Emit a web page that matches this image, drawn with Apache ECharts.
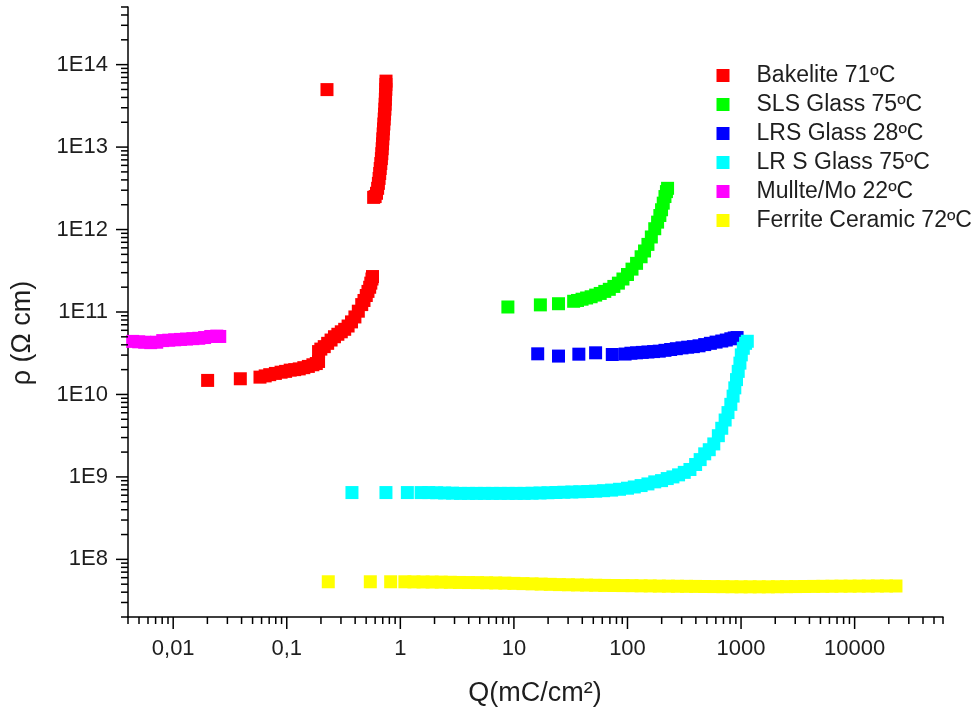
<!DOCTYPE html>
<html>
<head>
<meta charset="utf-8">
<script src="https://cdn.jsdelivr.net/npm/echarts@6/dist/echarts.min.js"></script>
<style>
  html, body { margin: 0; padding: 0; background: #ffffff; }
  #chart { width: 975px; height: 714px; }
</style>
</head>
<body>
<div id="chart"></div>
<script>
// ---------------- data (x = Q in mC/cm^2, y = rho in Ohm cm) ----------------
const seriesNames = ['Bakelite 71ºC', 'SLS Glass 75ºC', 'LRS Glass 28ºC', 'LR S Glass 75ºC', 'Mullte/Mo 22ºC', 'Ferrite Ceramic 72ºC'];
const seriesColors = ['#ff0000', '#00ff00', '#0000ff', '#00ffff', '#ff00ff', '#ffff00'];

const bakelite = [
  [0.0201, 1.48e10], [0.039, 1.55e10],
  [0.0581, 1.622e10], [0.0646, 1.679e10], [0.0708, 1.738e10], [0.0794, 1.799e10], [0.0891, 1.862e10],
  [0.0977, 1.905e10], [0.1072, 1.972e10], [0.1175, 2.0e10], [0.1288, 2.042e10], [0.1413, 2.113e10],
  [0.1549, 2.188e10], [0.1698, 2.291e10], [0.182, 2.371e10], [0.1905, 2.512e10], [0.1905, 3.311e10],
  [0.1995, 3.548e10], [0.2138, 3.802e10], [0.2291, 4.169e10], [0.2455, 4.571e10], [0.263, 5.012e10],
  [0.2818, 5.370e10], [0.302, 5.754e10], [0.3236, 6.166e10], [0.3467, 6.761e10], [0.3715, 7.586e10],
  [0.3981, 8.710e10], [0.4266, 1.023e11], [0.4571, 1.230e11], [0.4786, 1.380e11], [0.5012, 1.585e11],
  [0.5188, 1.778e11], [0.537, 1.995e11], [0.5495, 2.239e11], [0.5623, 2.512e11], [0.5689, 2.692e11],
  [0.582, 2.455e12], [0.600, 2.512e12], [0.617, 2.754e12], [0.631, 3.162e12], [0.641, 3.631e12],
  [0.650, 4.169e12], [0.658, 4.786e12], [0.665, 5.495e12], [0.673, 6.310e12], [0.681, 7.244e12],
  [0.687, 8.318e12], [0.692, 9.550e12], [0.697, 1.096e13], [0.701, 1.259e13], [0.706, 1.445e13],
  [0.711, 1.660e13], [0.716, 1.905e13], [0.721, 2.188e13], [0.726, 2.512e13], [0.731, 2.884e13],
  [0.735, 3.311e13], [0.738, 3.802e13], [0.741, 4.365e13], [0.745, 5.012e13], [0.746, 5.754e13],
  [0.748, 6.310e13],
  [0.226, 4.98e13]
];

const slsGlass = [
  [8.85, 1.15e11], [17.1, 1.22e11], [24.7, 1.26e11],
  [33.57, 1.349e11], [36.31, 1.380e11], [39.81, 1.429e11], [43.65, 1.479e11], [47.86, 1.531e11],
  [52.48, 1.603e11], [57.54, 1.679e11], [63.10, 1.778e11], [69.18, 1.884e11], [75.86, 2.042e11],
  [83.18, 2.239e11], [91.20, 2.512e11], [100, 2.851e11], [109.6, 3.311e11], [120.2, 3.890e11],
  [131.8, 4.677e11], [141.3, 5.495e11], [151.4, 6.607e11], [162.2, 8.128e11], [173.8, 1.023e12],
  [184.1, 1.230e12], [192.8, 1.479e12], [199.5, 1.738e12], [206.5, 2.089e12], [213.8, 2.512e12],
  [220.3, 2.884e12], [225.4, 3.162e12]
];

const lrsGlass28 = [
  [16.2, 3.11e10], [24.7, 2.92e10], [37.3, 3.08e10], [52.4, 3.20e10], [73.5, 3.05e10],
  [95.28, 3.090e10], [107.2, 3.162e10], [120.2, 3.199e10], [134.9, 3.236e10], [151.4, 3.273e10],
  [169.8, 3.311e10], [190.5, 3.350e10], [213.8, 3.428e10], [239.9, 3.508e10], [269.2, 3.589e10],
  [302.0, 3.673e10], [338.8, 3.741e10], [380.2, 3.802e10], [426.6, 3.890e10], [478.6, 4.027e10],
  [537.0, 4.169e10], [602.6, 4.315e10], [676.1, 4.446e10], [741.3, 4.571e10], [812.8, 4.732e10],
  [871.0, 4.842e10], [922.6, 4.898e10]
];

const lrsGlass75 = [
  [0.375, 6.46e8], [0.747, 6.46e8], [1.153, 6.46e8],
  [1.524, 6.457e8], [1.778, 6.457e8], [2.089, 6.427e8], [2.455, 6.383e8], [2.884, 6.353e8],
  [3.388, 6.310e8], [3.981, 6.310e8], [4.677, 6.310e8], [5.495, 6.310e8], [6.457, 6.310e8],
  [7.586, 6.310e8], [8.913, 6.310e8], [10.47, 6.310e8], [12.30, 6.310e8], [14.45, 6.339e8],
  [16.98, 6.383e8], [19.95, 6.427e8], [23.44, 6.471e8], [27.54, 6.516e8], [32.36, 6.561e8],
  [38.02, 6.607e8], [44.67, 6.653e8], [52.48, 6.714e8], [61.66, 6.808e8], [72.44, 6.918e8],
  [85.11, 7.079e8], [100, 7.295e8], [114.8, 7.551e8], [131.8, 7.852e8], [151.4, 8.222e8],
  [173.8, 8.710e8], [199.5, 9.016e8], [223.9, 9.550e8], [251.2, 1.0e9], [281.8, 1.059e9],
  [316.2, 1.135e9], [354.8, 1.230e9], [398.1, 1.413e9], [436.5, 1.622e9], [478.6, 1.905e9],
  [524.8, 2.138e9], [575.4, 2.512e9], [631.0, 3.162e9], [676.1, 3.890e9], [724.4, 4.898e9],
  [767.4, 6.026e9], [812.8, 7.586e9], [851.1, 9.550e9], [881.0, 1.202e10], [912.0, 1.514e10],
  [944.1, 1.905e10], [977.2, 2.399e10], [1005, 3.020e10], [1047, 3.631e10], [1096, 4.169e10],
  [1135, 4.416e10]
];

const mullite = [
  [0.0044, 4.4e10], [0.00497, 4.35e10], [0.00561, 4.3e10], [0.00634, 4.25e10], [0.00716, 4.3e10],
  [0.00809, 4.5e10], [0.00914, 4.55e10], [0.0103, 4.6e10], [0.0116, 4.65e10], [0.0131, 4.7e10],
  [0.0149, 4.75e10], [0.0168, 4.8e10], [0.0189, 4.9e10], [0.0214, 5.05e10], [0.0242, 5.1e10],
  [0.0257, 5.05e10]
];

const ferrite = [
  [0.232, 5.35e7], [0.544, 5.35e7], [0.822, 5.35e7],
  [1.096, 5.346e7], [1.318, 5.333e7], [1.585, 5.321e7], [1.905, 5.309e7], [2.291, 5.297e7],
  [2.754, 5.272e7], [3.311, 5.248e7], [3.981, 5.236e7], [4.786, 5.224e7], [5.754, 5.200e7],
  [6.918, 5.176e7], [8.318, 5.152e7], [10, 5.117e7], [12.02, 5.082e7], [14.45, 5.047e7],
  [17.38, 5.012e7], [20.89, 4.977e7], [25.12, 4.943e7], [30.20, 4.920e7], [36.31, 4.898e7],
  [43.65, 4.875e7], [52.48, 4.853e7], [63.10, 4.831e7], [75.86, 4.819e7], [91.20, 4.808e7],
  [109.6, 4.797e7], [131.8, 4.775e7], [158.5, 4.764e7], [190.5, 4.742e7], [229.1, 4.732e7],
  [275.4, 4.721e7], [331.1, 4.710e7], [398.1, 4.699e7], [478.6, 4.688e7], [575.4, 4.677e7],
  [691.8, 4.667e7], [831.8, 4.656e7], [1000, 4.645e7], [1202, 4.645e7], [1445, 4.645e7],
  [1738, 4.645e7], [2089, 4.656e7], [2512, 4.667e7], [3020, 4.677e7], [3631, 4.688e7],
  [4365, 4.699e7], [5248, 4.710e7], [6310, 4.721e7], [7586, 4.732e7], [9120, 4.732e7],
  [10965, 4.742e7], [13183, 4.742e7], [15849, 4.753e7], [19055, 4.753e7], [23121, 4.753e7]
];

// axis ranges and tick labels
const xRange = [0.004, 60000];
const yRange = [2e7, 5e14];
const xMajorTicks = [0.01, 0.1, 1, 10, 100, 1000, 10000];
const xTickLabels = ['0,01', '0,1', '1', '10', '100', '1000', '10000'];
const yMajorTicks = [1e8, 1e9, 1e10, 1e11, 1e12, 1e13, 1e14];
const yTickLabels = ['1E8', '1E9', '1E10', '1E11', '1E12', '1E13', '1E14'];
const xTitle = 'Q(mC/cm²)';
const yTitle = 'ρ (Ω cm)';

// ---------------- chart ----------------
const FONT = '"Liberation Sans", Arial, Helvetica, sans-serif';
const TEXT = '#1e1e1e';

function near(a, b) { return Math.abs(a - b) <= Math.abs(b) * 1e-6; }
function labelFor(v, ticks, labels) {
  for (let i = 0; i < ticks.length; i++) if (near(v, ticks[i])) return labels[i];
  return '';
}
// decade minor/major tick values inside a range
function tickValues(range) {
  const out = [];
  const e0 = Math.floor(Math.log10(range[0])) - 1, e1 = Math.ceil(Math.log10(range[1])) + 1;
  for (let e = e0; e <= e1; e++) {
    for (let m = 1; m <= 9; m++) {
      const v = parseFloat((m * Math.pow(10, e)).toPrecision(6));
      if (v >= range[0] * (1 - 1e-9) && v <= range[1] * (1 + 1e-9)) out.push([v, m === 1]);
    }
  }
  return out;
}
const MAJOR = 12, MINOR = 7, AXW = 1.5;
const xTickData = tickValues(xRange).map(t => [t[0], yRange[0], t[1] ? MAJOR : MINOR]);
const yTickData = tickValues(yRange).map(t => [xRange[0], t[0], t[1] ? MAJOR : MINOR]);

function tickSeries(data, isX) {
  return {
    type: 'custom', silent: true, clip: false, z: 10,
    data: data,
    renderItem: function (params, api) {
      const p = api.coord([api.value(0), api.value(1)]);
      const len = api.value(2);
      const shape = isX
        ? { x1: p[0], y1: p[1], x2: p[0], y2: p[1] + len }
        : { x1: p[0] - len, y1: p[1], x2: p[0], y2: p[1] };
      return { type: 'line', shape: shape, style: { stroke: '#000', lineWidth: AXW } };
    }
  };
}

const dataSets = [bakelite, slsGlass, lrsGlass28, lrsGlass75, mullite, ferrite];
const scatterSeries = dataSets.map((d, i) => ({
  name: seriesNames[i],
  type: 'scatter',
  data: d,
  symbol: 'rect',
  symbolSize: 13,
  itemStyle: { color: seriesColors[i], opacity: 1 },
  emphasis: { disabled: true },
  clip: true,
  z: 3
}));

const chart = echarts.init(document.getElementById('chart'), null, { renderer: 'canvas' });
chart.setOption({
  animation: false,
  backgroundColor: '#ffffff',
  textStyle: { fontFamily: FONT },
  grid: { left: 128, right: 32, top: 7, bottom: 97, containLabel: false, outerBoundsMode: 'none' },
  legend: {
    data: seriesNames,
    orient: 'vertical',
    left: 716.5,
    top: 64,
    padding: 0,
    itemWidth: 13,
    itemHeight: 13,
    itemGap: 6,
    icon: 'rect',
    selectedMode: false,
    textStyle: { fontFamily: FONT, fontSize: 23, lineHeight: 22, color: TEXT, padding: [0, 0, 0, 22] }
  },
  xAxis: {
    type: 'log', logBase: 10, min: xRange[0], max: xRange[1],
    splitLine: { show: false },
    axisLine: { show: true, onZero: false, lineStyle: { color: '#000', width: AXW } },
    axisTick: { show: false },
    minorTick: { show: false },
    axisLabel: {
      margin: 21, fontSize: 22, color: TEXT, fontFamily: FONT,
      showMinLabel: true, showMaxLabel: true,
      formatter: v => labelFor(v, xMajorTicks, xTickLabels)
    }
  },
  yAxis: {
    type: 'log', logBase: 10, min: yRange[0], max: yRange[1],
    splitLine: { show: false },
    axisLine: { show: true, onZero: false, lineStyle: { color: '#000', width: AXW } },
    axisTick: { show: false },
    minorTick: { show: false },
    axisLabel: {
      margin: 20, fontSize: 22, color: TEXT, fontFamily: FONT,
      formatter: v => labelFor(v, yMajorTicks, yTickLabels)
    }
  },
  graphic: [
    { type: 'text', x: 535, y: 694, silent: true,
      style: { text: xTitle, fontSize: 27, fontFamily: FONT, fill: TEXT, align: 'center', verticalAlign: 'middle' } },
    { type: 'text', x: 23, y: 333, rotation: Math.PI / 2, silent: true,
      style: { text: yTitle, fontSize: 27, fontFamily: FONT, fill: TEXT, align: 'center', verticalAlign: 'middle' } }
  ],
  series: scatterSeries.concat([tickSeries(xTickData, true), tickSeries(yTickData, false)])
});
</script>
</body>
</html>
